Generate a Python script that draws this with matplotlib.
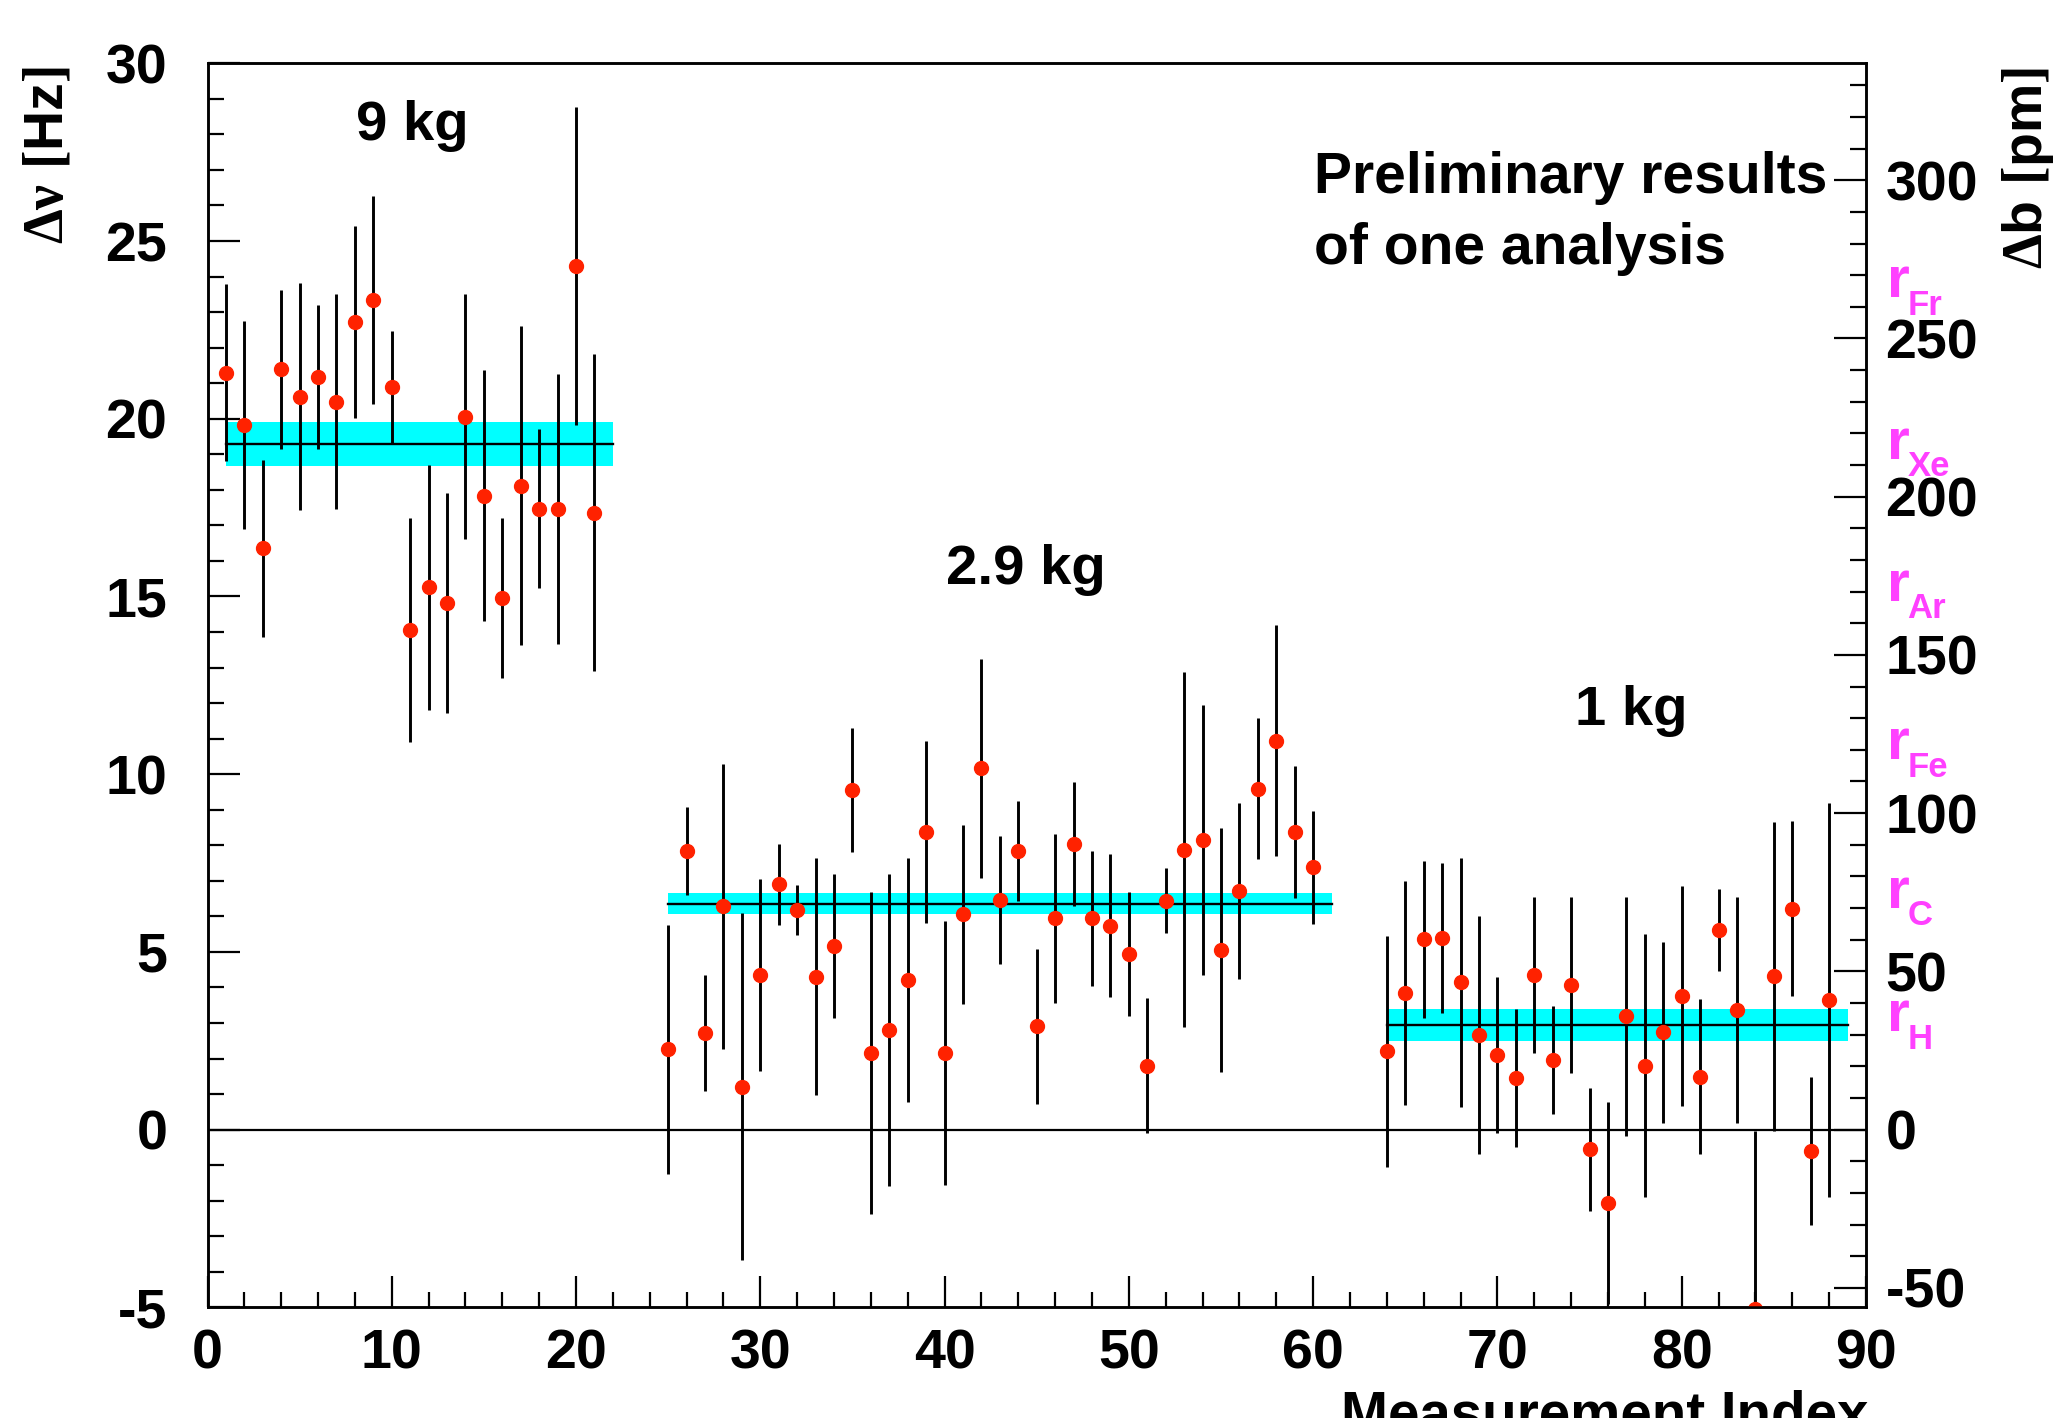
import numpy as np
import matplotlib
matplotlib.use("Agg")
import matplotlib.pyplot as plt
from matplotlib.ticker import MultipleLocator

plt.rcParams['font.family'] = ['Liberation Sans', 'DejaVu Sans']
plt.rcParams['font.weight'] = 'bold'
plt.rcParams['axes.unicode_minus'] = False
plt.rcParams['mathtext.fontset'] = 'custom'
plt.rcParams['mathtext.rm'] = 'Liberation Serif'
plt.rcParams['mathtext.it'] = 'Liberation Serif'
plt.rcParams['mathtext.bf'] = 'Liberation Sans:bold'
plt.rcParams['mathtext.default'] = 'rm'

# ---- data ----
idx_9kg = list(range(1, 22))
val_9kg = [21.29, 19.83, 16.35, 21.39, 20.62, 21.17, 20.48, 22.73, 23.34, 20.88,
           14.06, 15.26, 14.81, 20.06, 17.83, 14.96, 18.12, 17.47, 17.47, 24.29, 17.36]
err_9kg = [2.49, 2.92, 2.50, 2.23, 3.20, 2.03, 3.03, 2.70, 2.92, 1.60,
           3.16, 3.45, 3.10, 3.45, 3.53, 2.25, 4.50, 2.24, 3.80, 4.48, 4.45]

idx_29kg = list(range(25, 61))
val_29kg = [2.26, 7.84, 2.71, 6.28, 1.21, 4.35, 6.90, 6.18, 4.30, 5.17,
            9.55, 2.16, 2.80, 4.20, 8.37, 2.16, 6.06, 10.16, 6.46, 7.84,
            2.91, 5.94, 8.03, 5.94, 5.74, 4.94, 1.79, 6.44, 7.88, 8.15,
            5.05, 6.71, 9.59, 10.94, 8.38, 7.38]
err_29kg = [3.50, 1.23, 1.63, 4.00, 4.88, 2.70, 1.14, 0.70, 3.34, 2.02,
            1.74, 4.53, 4.40, 3.43, 2.57, 3.72, 2.52, 3.08, 1.81, 1.40,
            2.18, 2.38, 1.74, 1.90, 2.00, 1.75, 1.90, 0.91, 5.00, 3.80,
            3.43, 2.47, 1.99, 3.25, 1.86, 1.59]

idx_1kg = list(range(64, 89))
val_1kg = [2.20, 3.85, 5.35, 5.40, 4.14, 2.65, 2.09, 1.45, 4.35, 1.96,
           4.06, -0.56, -2.07, 3.19, 1.80, 2.74, 3.76, 1.49, 5.61, 3.36,
           -5.05, 4.31, 6.22, -0.61, 3.64]
err_1kg = [3.25, 3.15, 2.20, 2.11, 3.50, 3.35, 2.20, 1.93, 2.20, 1.52,
           2.47, 1.73, 2.85, 3.36, 3.70, 2.55, 3.10, 2.17, 1.15, 3.18,
           5.00, 4.35, 2.47, 2.08, 5.55]

# group means: (start, end, mean, half-width)
mean_start = [1, 25, 64]
mean_end = [22, 61, 89]
mean_val = [19.29, 6.36, 2.95]
mean_err = [0.61, 0.30, 0.45]
group_labels = ["9 kg", "2.9 kg", "1 kg"]

hz_to_pm = 11.232
radii_names = ["Fr", "Xe", "Ar", "Fe", "C", "H"]
radii_pm = [263, 212, 167, 117, 70, 31]

x_ticks = list(range(0, 91, 10))
y_ticks = list(range(-5, 31, 5))
pm_ticks = list(range(-50, 301, 50))

# ---- figure ----
W, H = 2057, 1418
fig = plt.figure(figsize=(W / 100, H / 100), dpi=100)
left, right, top, bottom = 207.5 / W, 1866 / W, 1 - 63.3 / H, 1 - 1307.3 / H
ax = fig.add_axes([left, bottom, right - left, top - bottom])
ax.set_xlim(0, 90)
ax.set_ylim(-5, 30)

red = '#ff2200'
for s, e, m, d in zip(mean_start, mean_end, mean_val, mean_err):
    ax.fill_between([s, e], [m - d, m - d], [m + d, m + d], color='#00ffff', lw=0, zorder=1)
    ax.plot([s, e], [m, m], color='black', lw=1.7, zorder=2)

ax.axhline(0, color='black', lw=1.6, zorder=2)

for xs, ys, es in [(idx_9kg, val_9kg, err_9kg), (idx_29kg, val_29kg, err_29kg),
                   (idx_1kg, val_1kg, err_1kg)]:
    ax.errorbar(xs, ys, yerr=es, fmt='none', ecolor='black', elinewidth=2.1,
                capsize=0, zorder=3)
    ax.plot(xs, ys, 'o', color=red, ms=10, mec=red, zorder=4, clip_on=True)

for sp in ax.spines.values():
    sp.set_linewidth(1.8)

ax.set_xticks(x_ticks)
ax.set_yticks(y_ticks)
ax.xaxis.set_minor_locator(MultipleLocator(2))
ax.yaxis.set_minor_locator(MultipleLocator(1))
ax.tick_params(axis='both', which='both', direction='in', top=False, right=False,
               width=1.6, labelsize=40)
ax.tick_params(axis='y', which='major', length=22.8, pad=29)
ax.tick_params(axis='y', which='minor', length=11.3)
ax.tick_params(axis='x', which='major', length=22, pad=15)
ax.tick_params(axis='x', which='minor', length=10.8)

ax2 = ax.twinx()
ax2.set_ylim(-5 * hz_to_pm, 30 * hz_to_pm)
ax2.set_yticks(pm_ticks)
ax2.yaxis.set_minor_locator(MultipleLocator(10))
ax2.tick_params(axis='y', which='both', direction='in', width=1.6, labelsize=40)
ax2.tick_params(axis='y', which='major', length=22.8, pad=14)
ax2.tick_params(axis='y', which='minor', length=11.3)
for sp in ax2.spines.values():
    sp.set_linewidth(1.8)

# group labels
ax.text(8.06, 27.84, group_labels[0], fontsize=40.5, fontweight='bold', ha='left', va='baseline')
ax.text(40.1, 15.35, group_labels[1], fontsize=40.5, fontweight='bold', ha='left', va='baseline')
ax.text(74.2, 11.37, group_labels[2], fontsize=40.5, fontweight='bold', ha='left', va='baseline')

ax.text(60.07, 26.35, "Preliminary results", fontsize=41, fontweight='bold', ha='left', va='baseline')
ax.text(60.07, 24.36, "of one analysis", fontsize=41, fontweight='bold', ha='left', va='baseline')

# radius markers on the right axis
mag = '#ff40ff'
x_r = 1887 / W
for name, pm in zip(radii_names, radii_pm):
    ax2.annotate("r", xy=(x_r, pm), xycoords=('figure fraction', 'data'),
                 fontsize=42, fontweight='bold', color=mag, ha='left', va='baseline',
                 annotation_clip=False)
    ax2.annotate(name, xy=(x_r, pm), xycoords=('figure fraction', 'data'),
                 xytext=(14.6, -12.5), textcoords='offset points',
                 fontsize=25, fontweight='bold', color=mag, ha='left', va='baseline',
                 annotation_clip=False)

# axis titles
fig.text(48 / W, 1 - 66.7 / H, r'$\Delta\nu\ [\mathbf{Hz}]$', rotation=90,
         fontsize=40, ha='center', va='top')
fig.text(2027.5 / W, 1 - 66.7 / H, r'$\Delta\mathbf{b}\ [\mathbf{pm}]$', rotation=90,
         fontsize=40, ha='center', va='top')
fig.text(1868 / W, 1 - 1390 / H, "Measurement Index", fontsize=40.7,
         fontweight='bold', ha='right', va='top')

fig.savefig("out.png", dpi=100)
